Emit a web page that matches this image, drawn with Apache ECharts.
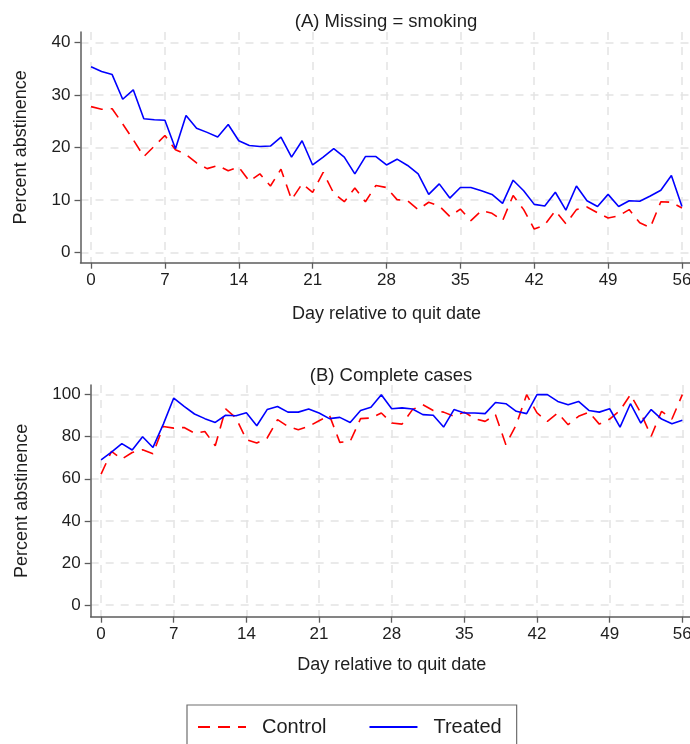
<!DOCTYPE html>
<html>
<head>
<meta charset="utf-8">
<script src="https://cdn.jsdelivr.net/npm/echarts@6/dist/echarts.min.js"></script>
<style>
  html, body { margin: 0; padding: 0; background: #fff; }
  #chart { width: 690px; height: 744px; }
</style>
</head>
<body>
<div id="chart"></div>
<script>
// Days since the quit date
const days = [0,1,2,3,4,5,6,7,8,9,10,11,12,13,14,15,16,17,18,19,20,21,22,23,24,25,26,27,28,
  29,30,31,32,33,34,35,36,37,38,39,40,41,42,43,44,45,46,47,48,49,50,51,52,53,54,55,56];

// Panel A: missing counted as smoking
const controlA = [27.8,27.3,27.4,24.5,21.5,18.3,20.3,22.3,19.6,18.7,17.1,16.0,16.6,15.6,16.3,13.6,15.0,12.7,15.9,10.1,
  13.1,11.5,15.3,11.3,9.7,12.3,9.7,12.8,12.4,10.1,9.9,8.2,9.6,8.9,6.9,8.3,6.1,8.0,7.5,6.1,
  10.9,8.2,4.5,5.3,8.0,5.5,8.2,8.7,7.6,6.6,7.0,8.2,5.7,4.8,9.7,9.6,8.5];
const treatedA = [35.4,34.5,33.9,29.2,31.0,25.5,25.3,25.2,19.8,26.1,23.7,22.9,22.0,24.4,21.3,20.4,20.2,20.3,22.0,18.2,
  21.3,16.7,18.2,19.8,18.2,15.0,18.3,18.3,16.7,17.8,16.6,15.0,11.1,13.1,10.4,12.4,12.4,11.8,11.1,9.4,
  13.8,11.8,9.2,8.9,11.5,8.1,12.7,9.9,8.8,11.1,8.8,9.9,9.8,10.8,11.9,14.7,8.8];

// Panel B: complete cases
const controlB = [62.2,73.0,69.4,72.5,73.8,71.9,84.9,84.1,84.4,81.7,82.5,75.7,93.2,88.9,78.6,77.0,79.4,88.1,84.9,83.3,
  84.9,87.6,90.2,77.3,77.8,88.6,88.9,91.3,86.5,86.0,92.9,95.2,92.5,91.7,89.7,91.7,88.6,87.3,90.5,76.2,
  85.7,100,91.3,87.3,91.3,85.7,89.7,91.7,86.0,88.4,92.5,100,91.3,80.2,92.1,88.4,100];
const treatedB = [69.0,72.7,76.7,73.7,80.0,74.9,86.0,98.4,94.4,90.8,88.6,86.8,90.2,90.0,91.4,85.2,92.9,94.4,91.7,91.7,
  93.2,91.3,88.6,89.2,86.8,92.5,94.0,100,93.3,93.7,93.2,90.5,90.2,84.6,92.9,91.3,91.3,91.0,96.3,95.7,
  92.1,91.0,100,100,96.8,95.2,96.8,92.5,91.7,93.3,84.6,95.7,86.5,92.9,88.4,86.2,87.8];

// Tick labels
const dayTicks = [0,7,14,21,28,35,42,49,56];
const ticksA = [0,10,20,30,40];
const ticksB = [0,20,40,60,80,100];

const seriesNames = ['Control', 'Treated'];
const panelTitles = ['(A) Missing = smoking', '(B) Complete cases'];
const xName = 'Day relative to quit date';
const yName = 'Percent abstinence';

const FONT = '"Liberation Sans", Arial, Helvetica, sans-serif';
const TXT = '#1e1e1e';
const AXIS = '#5c5c5c';
const GRIDC = '#e4e4e4';

const pairs = (vals) => days.map((d, i) => [d, vals[i]]);

function xAxisFor(gridIndex, nameGap) {
  return {
    type: 'value', gridIndex, min: -1, max: 57,
    name: xName, nameLocation: 'middle', nameGap,
    nameTextStyle: { fontSize: 18, color: TXT, fontFamily: FONT },
    axisLine: { show: true, onZero: false, lineStyle: { color: AXIS, width: 1.5 } },
    axisTick: { show: true, length: 6, customValues: dayTicks, lineStyle: { color: AXIS, width: 1.3 } },
    axisLabel: { customValues: dayTicks, fontSize: 17, color: TXT, fontFamily: FONT, margin: 9 },
    splitLine: { show: true, lineStyle: { color: GRIDC, width: 1.5, type: [8, 7] } }
  };
}

function yAxisFor(gridIndex, min, max, ticks, nameGap) {
  return {
    type: 'value', gridIndex, min, max,
    name: yName, nameLocation: 'middle', nameGap,
    nameTextStyle: { fontSize: 18, color: TXT, fontFamily: FONT },
    axisLine: { show: true, onZero: false, lineStyle: { color: AXIS, width: 1.5 } },
    axisTick: { show: true, length: 6, customValues: ticks, lineStyle: { color: AXIS, width: 1.3 } },
    axisLabel: { customValues: ticks, fontSize: 17, color: TXT, fontFamily: FONT, margin: 10 },
    splitLine: { show: true, lineStyle: { color: GRIDC, width: 1.5, type: [8, 7] } }
  };
}

function lineSeries(name, vals, idx) {
  const isControl = name === 'Control';
  return {
    name, type: 'line', xAxisIndex: idx, yAxisIndex: idx,
    data: pairs(vals), symbol: 'none', animation: false,
    lineStyle: isControl
      ? { color: '#ff0000', width: 1.6, type: [12, 8] }
      : { color: '#0000ff', width: 1.6 },
    itemStyle: { color: isControl ? '#ff0000' : '#0000ff' }
  };
}

const chart = echarts.init(document.getElementById('chart'), null, { renderer: 'canvas' });
chart.setOption({
  backgroundColor: '#ffffff',
  animation: false,
  textStyle: { fontFamily: FONT },
  title: [
    { text: panelTitles[0], left: 381, top: 7, textAlign: 'center',
      textStyle: { fontSize: 18.5, fontWeight: 'normal', color: TXT, fontFamily: FONT } },
    { text: panelTitles[1], left: 386, top: 361, textAlign: 'center',
      textStyle: { fontSize: 18.5, fontWeight: 'normal', color: TXT, fontFamily: FONT } }
  ],
  grid: [
    { left: 80.5, top: 32, width: 612, height: 230.7, outerBoundsMode: 'none' },
    { left: 90.7, top: 385, width: 602, height: 231.7, outerBoundsMode: 'none' }
  ],
  xAxis: [xAxisFor(0, 42), xAxisFor(1, 39)],
  yAxis: [yAxisFor(0, -1.9, 42, ticksA, 50), yAxisFor(1, -5.6, 104.6, ticksB, 60)],
  legend: {
    data: seriesNames, left: 187, top: 705, orient: 'horizontal',
    borderColor: '#6e6e6e', borderWidth: 1.2,
    padding: [12, 15, 40, 10],
    itemWidth: 48, itemHeight: 20, itemGap: 42,
    // keep only the line sample in each key entry
    itemStyle: { color: 'rgba(0,0,0,0)', borderWidth: 0, opacity: 0 },
    textStyle: { fontSize: 20, color: TXT, fontFamily: FONT, padding: [0, 0, 0, 11] }
  },
  series: [
    lineSeries('Control', controlA, 0),
    lineSeries('Treated', treatedA, 0),
    lineSeries('Control', controlB, 1),
    lineSeries('Treated', treatedB, 1)
  ]
});
</script>
</body>
</html>
